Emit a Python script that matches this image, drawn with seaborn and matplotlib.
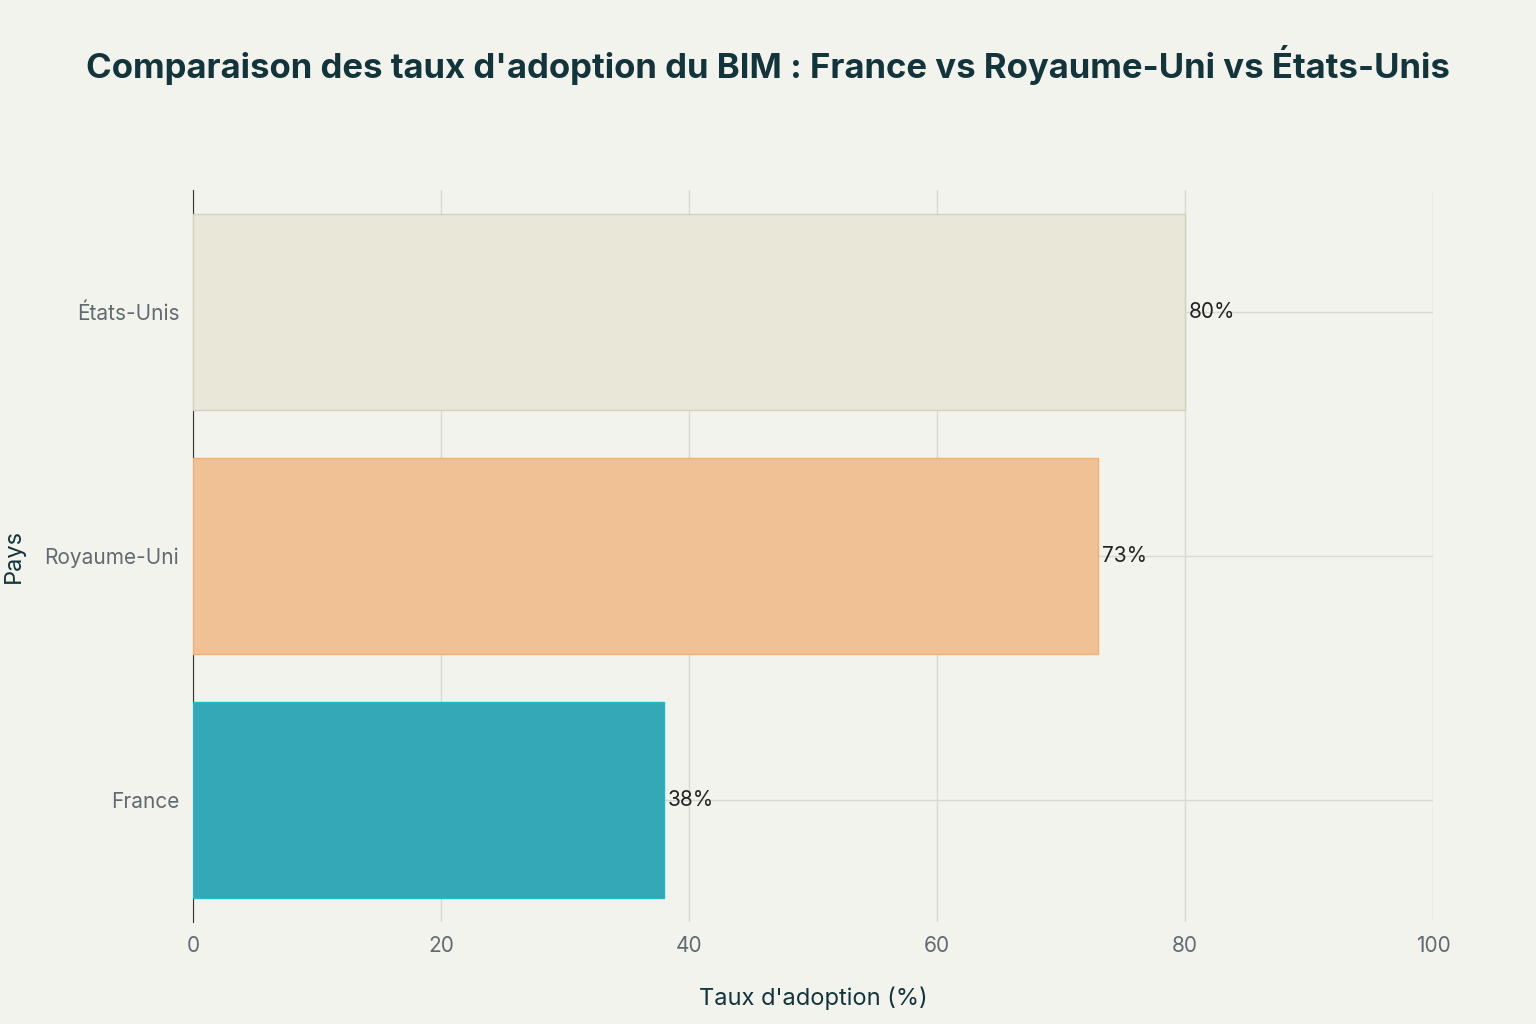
import matplotlib
matplotlib.use("Agg")
import matplotlib.pyplot as plt
import seaborn as sns
import pandas as pd

pays = ["États-Unis", "Royaume-Uni", "France"]
taux = [80, 73, 38]
couleurs = ["#ECEBD5", "#FFC185", "#1FB8CD"]
bords = ["#D2D1BC", "#F0B072", "#1FB8CD"]
xticks = [0, 20, 40, 60, 80, 100]

df = pd.DataFrame({"Pays": pays, "Taux": taux})
plt.rcParams["font.family"] = "Inter"
fig = plt.figure(figsize=(15.36, 10.24), dpi=100, facecolor="#F3F3EE")
ax = fig.add_axes([0.1257, 0.0996, 0.8073, 0.7149])
ax.set_facecolor("#F3F3EE")
sns.barplot(data=df, y="Pays", x="Taux", hue="Pays", palette=couleurs, order=pays,
            orient="h", width=0.8, ax=ax, legend=False, zorder=3)
for p, e in zip(ax.patches, bords):
    p.set_edgecolor(e); p.set_linewidth(1)
ax.set_xlim(0, 100)
ax.set_ylim(2.5, -0.5)
ax.set_xticks(xticks)
ax.grid(True, color="#D9D9D4", linewidth=1, zorder=0)
ax.set_axisbelow(True)
for s in ["top", "right", "bottom"]:
    ax.spines[s].set_visible(False)
ax.spines["left"].set_color("#333333")
ax.tick_params(axis="both", length=0, labelsize=15, colors="#5F6B70", pad=10)
for i, v in enumerate(taux):
    ax.text(v + 0.3, i, f"{v}%", va="center", ha="left", fontsize=15, color="#222222", zorder=4)
ax.set_xlabel("Taux d'adoption (%)", fontsize=17, color="#13343B", labelpad=22)
ax.set_ylabel("Pays", fontsize=17, color="#13343B", labelpad=14)
fig.text(0.5, 0.937, "Comparaison des taux d'adoption du BIM : France vs Royaume-Uni vs États-Unis",
         ha="center", va="center", fontsize=25, fontweight="bold", color="#13343B")
fig.savefig("out.png", dpi=100, facecolor=fig.get_facecolor())
